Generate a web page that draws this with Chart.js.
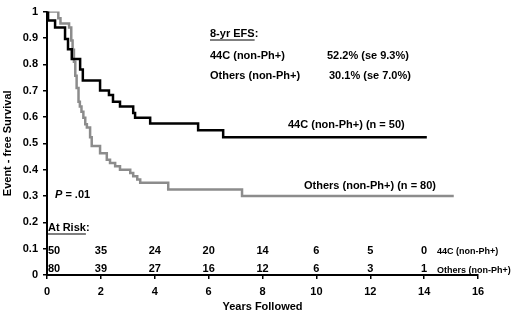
<!DOCTYPE html>
<html>
<head>
<meta charset="utf-8">
<script src="https://cdn.jsdelivr.net/npm/chart.js@4"></script>
<style>
  html, body { margin: 0; padding: 0; background: #fff; }
  #wrap { width: 520px; height: 314px; position: relative; }
</style>
</head>
<body>
<div id="wrap"><canvas id="myChart"></canvas></div>
<script>
// Kaplan-Meier steps (years, EFS)
const years44c = [0, 0.04, 0.3, 0.67, 0.78, 0.92, 1.23, 1.33, 1.97, 2.3, 2.45, 2.71, 3.2, 3.27, 3.83, 5.61, 6.54, 14.1]
const efs44c   = [1, 0.966, 0.94, 0.896, 0.857, 0.82, 0.78, 0.738, 0.70, 0.683, 0.658, 0.64, 0.615, 0.597, 0.575, 0.55, 0.523, 0.523]

const yearsOthers = [0, 0.42, 0.5, 0.76, 0.82, 0.9, 0.95, 1.0, 1.05, 1.1, 1.17, 1.22, 1.28, 1.35, 1.42, 1.48, 1.6, 1.66, 1.97, 2.22, 2.34, 2.53, 2.71, 3.09, 3.2, 3.35, 3.46, 4.5, 7.24, 15.1]
const efsOthers   = [1, 0.975, 0.955, 0.955, 0.94, 0.89, 0.855, 0.81, 0.756, 0.71, 0.658, 0.64, 0.62, 0.597, 0.572, 0.56, 0.523, 0.49, 0.4625, 0.4375, 0.425, 0.4125, 0.40, 0.3875, 0.375, 0.3625, 0.35, 0.325, 0.30, 0.30]

// patients at risk
const riskYears  = [0, 2, 4, 6, 8, 10, 12, 14]
const risk44c    = [50, 35, 24, 20, 14, 6, 5, 0]
const riskOthers = [80, 39, 27, 16, 12, 6, 3, 1]

const toPoints = (xs, ys) => xs.map((x, i) => ({ x, y: ys[i] }))

const FONT = '"Liberation Sans", Arial, sans-serif'

// extra texts: EFS box, curve labels, p value, at-risk table
const annotationsPlugin = {
  id: 'annotations',
  afterDraw: (chart) => {
    const { ctx, scales: { x, y } } = chart
    ctx.save()
    ctx.fillStyle = '#000'
    ctx.strokeStyle = '#000'
    ctx.textBaseline = 'middle'
    ctx.textAlign = 'left'

    const text = (s, px, py, size = 11, style = 'bold') => {
      ctx.font = style + ' ' + size + 'px ' + FONT
      ctx.fillText(s, px, py)
      return ctx.measureText(s).width
    }
    const underline = (px, py, w) => {
      ctx.lineWidth = 1.2
      ctx.beginPath()
      ctx.moveTo(px, py)
      ctx.lineTo(px + w, py)
      ctx.stroke()
    }

    // 8-yr EFS box
    let w = text('8-yr EFS', 210, 34)
    underline(210, 40, w)
    text(':', 210 + w, 34)
    text('44C (non-Ph+)', 210, 56)
    text('52.2% (se 9.3%)', 327, 56)
    text('Others (non-Ph+)', 210, 76)
    text('30.1% (se 7.0%)', 329, 76)

    // curve labels
    text('44C (non-Ph+) (n = 50)', 288, 125)
    text('Others (non-Ph+) (n = 80)', 304, 186)

    // P value
    ctx.font = 'italic bold 11px ' + FONT
    ctx.fillText('P', 55, 195)
    const pw = ctx.measureText('P').width
    text(' = .01', 55 + pw, 195)

    // at risk
    w = text('At Risk', 48, 228)
    underline(47, 234, w + 1)
    text(':', 48 + w, 228)

    const row1 = y.getPixelForValue(0.092)
    const row2 = y.getPixelForValue(0.022)
    riskYears.forEach((yr, i) => {
      const px = x.getPixelForValue(yr)
      ctx.textAlign = i === 0 ? 'left' : 'center'
      const off = i === 0 ? 1 : 0
      text(String(risk44c[i]), px + off, row1)
      text(String(riskOthers[i]), px + off, row2)
    })
    ctx.textAlign = 'left'
    text('44C (non-Ph+)', 437, row1 + 1, 9)
    text('Others (non-Ph+)', 437, row2 + 1, 9)

    ctx.restore()
  }
}

const config = {
  type: 'line',
  data: {
    datasets: [
      {
        label: '44C (non-Ph+)',
        data: toPoints(years44c, efs44c),
        borderColor: '#000',
        borderWidth: 2.5,
        stepped: 'before',
        pointRadius: 0,
        fill: false
      },
      {
        label: 'Others (non-Ph+)',
        data: toPoints(yearsOthers, efsOthers),
        borderColor: '#8c8c8c',
        borderWidth: 2.5,
        stepped: 'before',
        pointRadius: 0,
        fill: false
      }
    ]
  },
  options: {
    responsive: true,
    maintainAspectRatio: false,
    animation: false,
    layout: { padding: { top: 4, right: 42, left: 0, bottom: 0 } },
    plugins: {
      legend: { display: false },
      tooltip: { enabled: false }
    },
    scales: {
      x: {
        type: 'linear',
        min: 0,
        max: 16,
        afterFit: (scale) => { scale.height = 39 },
        border: { color: '#000', width: 2 },
        grid: { display: true, drawOnChartArea: false, color: '#000', tickLength: 4, lineWidth: 1.5 },
        ticks: { stepSize: 2, color: '#000', padding: 6, font: { family: FONT, size: 11, weight: 'bold' } },
        title: {
          display: true,
          text: 'Years Followed',
          color: '#000',
          padding: { top: 0, bottom: 0 },
          font: { family: FONT, size: 11, weight: 'bold' }
        }
      },
      y: {
        min: 0,
        max: 1,
        afterFit: (scale) => { scale.width = 47 },
        border: { color: '#000', width: 2 },
        grid: { display: true, drawOnChartArea: false, color: '#000', tickLength: 4, lineWidth: 1.5 },
        ticks: {
          stepSize: 0.1,
          color: '#000',
          padding: 5,
          font: { family: FONT, size: 11, weight: 'bold' },
          callback: (v) => String(Number(v.toFixed(1)))
        },
        title: {
          display: true,
          text: 'Event - free Survival',
          color: '#000',
          padding: { top: 1, bottom: 0 },
          font: { family: FONT, size: 11, weight: 'bold' }
        }
      }
    }
  },
  plugins: [annotationsPlugin]
}

const ctx = document.getElementById('myChart').getContext('2d')
const myChart = new Chart(ctx, config)
</script>
</body>
</html>
